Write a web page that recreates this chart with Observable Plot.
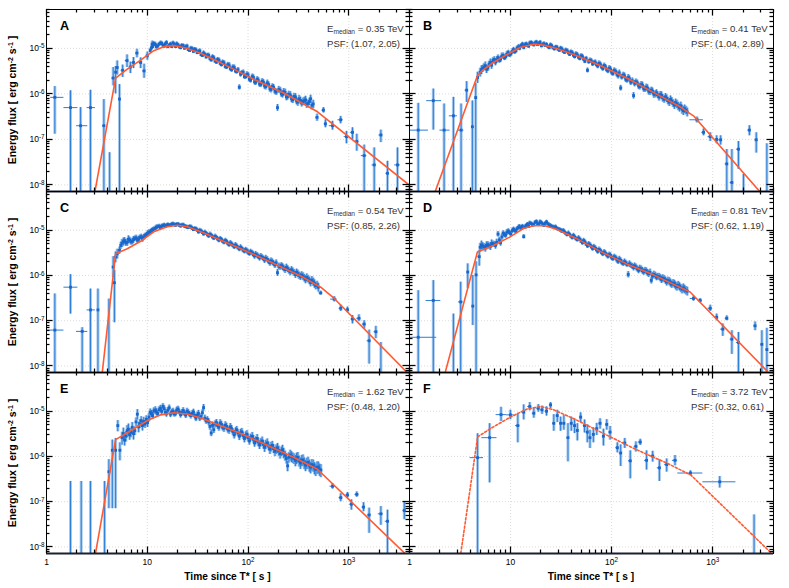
<!DOCTYPE html>
<html><head><meta charset="utf-8">
<script src="https://cdn.jsdelivr.net/npm/d3@7"></script>
<script src="https://cdn.jsdelivr.net/npm/@observablehq/plot@0.6"></script>
<style>
body{margin:0;background:#fff;}
#wrap{position:relative;width:789px;height:588px;overflow:hidden;font-family:'Liberation Sans',Arial,sans-serif;background:#fff;}
.lab{position:absolute;font-weight:bold;font-size:12.6px;line-height:1;color:#000;}
.ann{position:absolute;font-size:9.6px;line-height:1;color:#333;white-space:nowrap;}
.ann .sb{font-size:6.6px;position:relative;top:2.2px;}
.ytitle{position:absolute;font-weight:bold;font-size:10.5px;line-height:1;white-space:nowrap;transform:translate(-50%,-50%) rotate(-90deg);}
.ytitle .sp{font-size:7px;position:relative;top:-3.5px;}
.xtitle{position:absolute;font-weight:bold;font-size:10.2px;line-height:1;white-space:nowrap;transform:translate(-50%,-50%);}
svg.panel{position:absolute;background:transparent !important;overflow:visible;}
</style></head><body><div id="wrap"></div><script>
// ---------------- data (flux values in units of 1e-6 erg cm^-2 s^-1) ----------------
const U = 1e-6;
const panelLetters = ["A","B","C","D","E","F"];
const medianEnergy = ["0.35","0.41","0.54","0.81","1.62","3.72"];
const psfValues = ["(1.07, 2.05)","(1.04, 2.89)","(0.85, 2.26)","(0.62, 1.19)","(0.48, 1.20)","(0.32, 0.61)"];
const X_TICKS = [1, 10, 100, 1000];
const Y_TICKS = [1e-8, 1e-7, 1e-6, 1e-5];

// time bins of the densely sampled part of the light curves (s)
const T = [5.0,5.3,5.62,5.96,6.31,6.69,7.09,7.52,7.97,8.45,8.95,9.49,10.06,10.7,11.3,12.0,12.7,13.5,14.3,15.1,16.0,17.0,18.0,19.1,20.2,21.4,22.7,24.1,25.5,27.1,28.7,30.4,32.2,34.2,36.2,38.4,40.7,43.1,45.7,48.5,51.4,54.4,57.7,61.2,64.8,68.7,72.9,77.2,81.9,86.8,92.0,97.5,103,110,116,123,130,138,146,155,165,174,185,196,208,220,233,247,262,278,295,312,331,351,372,394,418,443,470,498,528,560,593];
const T2 = [5.15,5.46,5.79,6.13,6.50,6.89,7.30,7.74,8.21,8.70,9.22,9.77,10.4,11.0,11.6,12.3,13.1,13.9,14.7,15.5,16.5,17.5,18.5,19.6,20.8,22.0,23.4,24.8,26.3,27.9,29.5,31.3,33.2,35.2,37.3,39.5,41.9,44.4,47.1,49.9,52.9,56.0,59.4,63.0,66.7,70.8,75.0,79.5,84.3,89.4,94.7,100,106,113,119,126,134,142,150,160,169,179,190,202,214,226,240,254,270,286,303,321,341,361,383,406,430,456,484,513,544,576];
// relative errors (%) of the dense points
const errDense = [22,18,20,16,19,15,17,14,16,13,15,12,14, 12,11,12,10,11,9,10,9,10,9,10,9,10,9,10,9,10,9, 10,11,10,11,10,12,11,12,11,12,11,12,12,13,12,13,12,13,12,13, 14,13,14,15,14,15,14,16,15,16,15,16,17,16,17,18,17,18,17,18,19,18,19,20,19,20,21,20,22,21,22,23];
const errDenseE = [30,28,32,26,30,24,28,22,26,22,24,20,22, 18,17,18,16,17,15,16,15,16,15,16,15,16,15,16,15,16,15, 16,17,16,17,16,18,17,18,17,18,17,19,18,19,18,19,18,20,19,20, 20,19,21,20,22,21,22,23,22,24,23,24,25,24,26,25,26,27,26,28,27,28,29,28,30,29,30,31,30,32,31,32];

const fluxA = [null,null,null,null,null,null,null,null,null,null,null,null,null,
 9.0,11.0,12.2,11.3,13.0,11.8,12.6,10.9,12.4,13.2,11.0,11.9,10.4,11.5,10.8,9.4,10.1,8.6,9.3,8.4,7.3,7.9,6.5,7.0,5.6,6.2,5.0,5.5,4.4,4.8,3.9,4.3,3.4,3.8,3.1,1.4,2.9,2.4,2.7,2.1,2.4,1.85,2.1,1.65,1.9,1.5,1.75,1.3,1.45,1.15,0.5,1.2,0.98,1.08,0.88,0.95,0.74,0.86,0.66,0.72,0.68,0.74,0.62,0.78,0.60,
 null,null,null,null,null];
const fluxA2 = [null,null,null,null,null,null,null,null,null,null,null,null,null,
 10.3,12.8,10.9,12.4,12.9,11.2,13.4,11.8,11.0,12.3,12.6,10.8,11.6,10.1,11.2,9.0,9.8,9.6,8.1,8.8,7.0,7.4,7.1,6.0,6.5,5.3,5.7,4.7,5.0,4.0,4.4,3.6,3.9,3.2,3.4,2.7,3.0,2.4,2.6,2.0,2.3,1.8,2.0,1.62,1.8,1.45,1.6,1.25,1.4,1.1,1.25,1.0,1.12,0.86,0.98,0.78,0.88,0.7,0.78,0.63,0.71,0.6,0.68,0.56,
 null,null,null,null,null];
const fluxB = [3.0,3.6,4.2,3.7,4.9,5.4,5.0,6.3,5.8,7.0,6.6,8.1,7.6,9.4,8.9,10.8,11.6,10.5,12.6,11.2,13.5,12.0,13.8,12.9,11.4,12.7,12.2,10.4,11.5,9.8,10.7,9.1,9.7,8.2,8.9,7.4,8.0,6.6,7.2,6.0,6.6,5.2,3.3,5.5,4.6,5.0,4.1,4.5,3.6,3.95,3.2,3.5,2.8,3.1,2.5,1.35,2.6,2.1,2.3,1.8,0.92,1.85,1.5,1.6,1.3,1.4,1.15,1.2,0.98,1.05,0.85,0.93,0.76,0.8,0.66,0.70,0.57,0.6,0.5,0.46,0.47,0.40,null];
const fluxB2 = [3.4,3.9,3.5,4.5,4.3,5.7,5.6,5.5,6.8,6.2,7.5,7.2,8.6,8.4,10.2,10.1,12.4,12.0,11.6,13.1,12.6,13.2,12.1,13.6,12.1,11.6,11.1,11.9,10.3,10.6,9.6,10.1,8.7,9.2,8.0,8.4,7.1,7.6,6.4,6.9,5.8,6.0,5.1,5.3,4.8,4.4,4.7,3.9,4.2,3.4,3.7,3.0,3.3,2.7,2.9,2.35,2.5,2.0,2.15,1.95,1.7,1.75,1.45,1.55,1.28,1.35,1.12,1.15,1.0,0.95,0.96,0.82,0.86,0.71,0.75,0.62,0.64,0.54,0.55,0.43,0.44,null];
const fluxC = [null,3.6,5.2,5.9,5.4,6.1,5.7,6.5,6.0,6.9,6.4,7.6,8.5,9.3,10.2,11.0,11.9,11.4,12.6,12.1,13.3,12.7,13.8,12.9,13.6,12.4,13.1,12.0,11.4,11.8,10.3,10.7,9.2,9.6,8.3,8.5,7.5,7.7,6.7,6.9,6.0,6.2,5.4,5.6,4.8,4.95,4.3,4.45,3.85,3.95,3.45,3.5,3.05,3.15,2.7,2.8,2.45,2.5,2.2,2.25,1.9,2.0,1.7,1.15,1.55,1.55,1.35,1.4,1.2,1.25,1.05,1.1,0.95,0.96,0.82,0.84,0.7,0.72,0.6,0.55,null,null,null];
const fluxC2 = [null,4.6,5.6,5.2,6.3,5.5,6.2,6.8,6.3,7.2,7.0,8.0,9.0,9.8,10.6,11.6,12.3,12.2,13.1,12.6,12.9,13.5,13.2,13.4,12.8,12.9,12.3,11.7,12.0,11.0,10.9,10.0,9.9,8.9,9.0,7.9,8.1,7.1,7.3,6.4,6.5,5.7,5.9,5.1,5.2,4.6,4.7,4.1,4.2,3.6,3.7,3.25,3.35,2.9,2.95,2.6,2.65,2.35,2.4,2.05,2.1,1.85,1.9,1.6,1.65,1.45,1.5,1.3,1.32,1.15,1.17,1.0,1.02,0.88,0.9,0.77,0.79,0.66,0.62,null,null,null];
const fluxD = [4.2,4.5,4.1,4.8,4.4,5.0,4.6,8.2,5.3,8.6,7.8,9.6,8.3,10.4,9.4,11.6,10.9,7.2,12.8,12.1,14.0,13.2,15.5,13.4,14.6,12.8,15.2,13.0,12.1,11.4,11.0,10.3,9.5,9.1,8.0,8.0,6.9,7.1,6.2,6.3,5.3,5.5,4.5,4.7,3.95,4.05,3.4,3.55,3.0,3.1,2.65,2.75,2.35,2.45,2.05,2.15,1.85,1.9,1.05,1.7,1.5,1.55,1.3,1.38,1.2,1.25,1.1,0.78,1.05,0.92,0.94,0.82,0.84,0.72,0.74,0.64,0.65,0.57,0.57,0.5,0.5,0.45,null];
const fluxD2 = [4.7,4.3,4.6,4.5,5.1,4.9,5.4,6.1,7.1,7.9,9.0,8.8,9.8,9.9,10.8,11.9,12.2,11.8,13.6,14.4,13.1,14.9,14.0,15.3,13.6,14.2,13.8,12.6,11.9,11.8,10.6,10.0,9.8,8.5,8.6,7.4,7.6,6.5,6.7,5.7,5.9,4.9,5.0,4.3,4.3,3.7,3.75,3.2,3.3,2.85,2.9,2.5,2.6,2.2,2.3,1.95,2.0,1.75,1.8,1.6,1.62,1.4,1.45,1.28,1.3,1.15,1.17,0.98,1.0,0.95,0.88,0.87,0.78,0.77,0.69,0.68,0.6,0.61,0.53,0.53,0.47,null];
const fluxE = [null,null,2.6,2.3,3.7,3.0,4.4,3.7,8.6,5.3,4.8,5.2,5.6,9.5,8.0,10.6,8.9,11.5,12.8,9.4,10.5,8.6,10.1,9.0,11.2,8.4,10.4,8.2,9.4,8.0,9.6,7.0,8.9,7.6,12.0,6.1,5.8,3.3,3.9,5.6,4.4,5.1,4.2,4.6,3.8,4.1,3.0,3.9,2.8,3.5,2.5,3.1,2.2,2.8,2.0,2.5,1.8,2.2,1.6,2.0,1.45,1.75,1.3,1.55,1.15,1.4,1.05,0.62,1.08,0.95,0.82,0.96,0.72,0.84,0.64,0.74,0.58,0.64,0.52,0.58,0.5,null,null];
const fluxE2 = [null,null,3.2,2.8,4.0,3.4,3.2,5.8,4.5,6.2,5.9,6.6,7.4,8.8,10.1,9.6,10.8,9.9,11.4,8.8,11.9,9.5,8.7,10.6,9.6,9.2,9.0,10.0,8.6,8.9,8.0,8.2,7.1,9.3,7.0,6.5,4.6,4.9,5.2,4.8,5.5,4.4,4.9,4.0,4.5,3.5,3.6,3.3,3.3,2.9,2.9,2.6,2.6,2.4,2.25,2.1,2.05,1.85,1.85,1.7,1.65,1.5,1.45,1.35,1.3,1.2,0.9,0.96,1.0,0.9,0.92,0.8,0.82,0.72,0.71,0.64,0.66,0.56,0.58,0.52,null,null];

// sparse points: [t, flux, fluxLow, fluxHigh, tLow, tHigh]  (fluxLow 0 = bar reaches the axis)
const sparseA = [[1.21,0.84,0.13,1.45,1.10,1.49],[1.73,0.50,0,1.17,1.49,2.05],[2.18,0.20,0,0.50,1.99,2.57],[2.73,0.50,0,1.20,2.53,3.06],[3.71,0.20,0,0.75,3.60,3.85],[4.23,0.004,0,0.051,4.23,4.23],[4.59,2.23,1.5,3.8,4.45,4.75],[4.85,3.0,1.0,4.0,4.85,4.85],[5.03,3.8,2.6,5.3,5.03,5.03],[5.30,0.77,0,1.6,5.30,5.30],[5.70,3.3,2.3,4.3,5.50,5.90],[6.30,5.4,3.8,7.2,6.05,6.55],[6.80,3.9,2.8,5.0,6.60,7.00],[7.30,4.9,3.6,6.3,7.05,7.55],[7.90,7.9,6.2,9.6,7.65,8.15],[8.60,4.9,3.6,6.2,8.30,8.90],[9.30,3.2,2.2,4.5,9.00,9.60],[10.0,6.9,5.5,8.3,9.70,10.3],[11.2,12.5,10.5,14.5,10.9,11.5],
 [484,0.305,0.25,0.36,470,500],[560,0.44,0.38,0.50,540,580],[586,0.22,0.18,0.27,570,605],[689,0.20,0.16,0.25,640,740],[830,0.27,0.22,0.32,780,880],[948,0.115,0.08,0.15,900,1000],[1087,0.143,0.10,0.18,1040,1130],[1200,0.090,0.055,0.13,1150,1260],[1420,0.044,0,0.075,1330,1510],[1786,0.0275,0,0.065,1700,1880],[2080,0.125,0.085,0.16,1990,2180],[2420,0.018,0,0.033,2330,2520],[3040,0.0275,0,0.065,2850,3250]];
const sparseB = [[1.22,0.16,0,0.62,1.0,1.54],[1.72,0.71,0.16,1.28,1.48,2.08],[2.20,0.16,0,0.60,2.0,2.52],[2.72,0.33,0,0.84,2.48,2.98],[3.24,0.16,0,0.60,3.05,3.45],[3.68,1.21,0.65,1.86,3.55,3.80],[4.19,0.19,0,0.70,4.19,4.19],[4.52,0.83,0,1.7,4.52,4.52],[4.72,2.3,1.7,3.0,4.60,4.85],
 [700,0.27,0.23,0.31,595,810],[813,0.143,0.12,0.17,780,850],[946,0.115,0.09,0.14,900,990],[1096,0.10,0.08,0.12,1050,1140],[1200,0.098,0.075,0.12,1150,1250],[1380,0.029,0,0.06,1330,1430],[1550,0.0113,0,0.06,1490,1610],[1800,0.061,0.022,0.09,1720,1880],[2020,0.004,0,0.017,2020,2020],[2310,0.16,0.12,0.20,2220,2400],[2700,0.098,0.05,0.14,2620,2780],[3440,0.004,0,0.08,3440,3440]];
const sparseC = [[1.21,0.062,0,0.39,1.0,1.49],[1.73,0.55,0.14,1.04,1.49,2.05],[2.26,0.058,0,0.07,1.98,2.57],[2.73,0.173,0,0.50,2.53,3.06],[3.24,0.173,0,0.50,3.24,3.24],[4.16,0.004,0,0.30,4.16,4.16],[4.59,1.53,0.9,2.6,4.50,4.70],[4.72,0.69,0.09,1.3,4.72,4.72],[4.85,2.55,1.9,3.3,4.85,4.85],[5.03,3.0,2.3,3.8,5.03,5.03],
 [526,0.41,0.37,0.45,505,550],[716,0.30,0.26,0.34,660,770],[832,0.188,0.16,0.22,800,865],[970,0.175,0.15,0.20,930,1010],[1087,0.109,0.085,0.13,1050,1130],[1260,0.113,0.095,0.135,1200,1320],[1420,0.084,0.065,0.10,1360,1480],[1590,0.036,0.011,0.062,1520,1660],[1855,0.057,0.04,0.075,1780,1940],[2080,0.004,0,0.033,2080,2080]];
const sparseD = [[1.22,0.043,0,0.46,1.0,1.86],[1.72,0.28,0,0.77,1.46,2.04],[2.72,0.004,0,0.14,2.72,2.72],[3.21,0.26,0,0.71,3.05,3.40],[3.77,1.19,0.51,1.8,3.77,3.77],[4.23,0.21,0.078,1.0,4.23,4.23],[4.56,1.03,0,2.0,4.56,4.56],[4.90,2.6,1.6,3.6,4.75,5.05],
 [646,0.31,0.27,0.35,600,700],[751,0.28,0.25,0.31,720,790],[946,0.188,0.16,0.22,900,990],[1096,0.119,0.10,0.14,1050,1140],[1260,0.065,0.045,0.085,1200,1320],[1380,0.113,0.10,0.128,1330,1430],[1550,0.039,0.018,0.06,1490,1610],[1800,0.033,0.004,0.055,1720,1880],[2630,0.077,0.06,0.094,2550,2720],[3070,0.030,0,0.06,3000,3150],[3440,0.023,0,0.068,3380,3500]];
const sparseE = [[1.73,0.004,0,0.28,1.73,1.73],[2.21,0.004,0,0.28,2.21,2.21],[2.73,0.004,0,0.28,2.73,2.73],[3.77,0.004,0,0.28,3.77,3.77],[4.16,0.46,0.07,0.85,4.16,4.16],[4.50,1.37,0.07,2.3,4.50,4.50],[4.85,1.37,0.07,2.5,4.85,4.85],[5.10,4.8,3.5,6.2,5.10,5.10],[5.35,1.37,0.8,2.0,5.35,5.35],
 [689,0.22,0.19,0.25,650,740],[832,0.123,0.10,0.15,800,870],[970,0.141,0.12,0.16,930,1010],[1060,0.088,0.065,0.11,1020,1100],[1200,0.145,0.125,0.165,1150,1260],[1400,0.076,0.06,0.095,1350,1450],[1590,0.051,0.02,0.072,1530,1660],[2080,0.054,0.03,0.078,1960,2200],[2420,0.037,0,0.065,2300,2540],[3550,0.064,0.04,0.10,3450,3650]];
const sparseF = [[4.72,0.94,0,3.17,3.98,5.4],[6.21,2.6,0.26,5.3,5.2,7.34],[8.05,8.4,5.9,12.2,7.2,9.1],[9.96,8.3,6.5,10.5,9.1,10.9],[11.8,4.8,2.0,8.7,11.2,12.4],[13.5,9.5,6.4,13.8,13.0,14.0],[15.5,12.7,10.2,15.5,14.8,16.2],[17.0,9.0,7.0,11.5,16.4,17.6],[18.8,11.6,9.5,14.0,18.2,19.4],[20.5,10.7,8.5,13.0,19.8,21.2],[22.7,10.0,7.8,12.5,22.0,23.4],[24.9,13.8,11.5,15.5,24.2,25.6],[26.8,5.4,3.6,8.4,26.0,27.6],[29.0,8.0,5.6,10.5,28.3,29.7],[31.3,5.4,3.6,7.4,30.6,32.0],[33.7,5.4,3.8,8.0,33.0,34.4],[37.0,2.6,0.76,5.3,36.2,37.8],[39.9,5.4,3.6,7.4,39.0,40.8],[43.0,4.8,3.2,6.6,42.0,44.0],[45.8,3.75,2.2,5.3,44.8,46.8],[49.4,7.4,5.6,9.2,48.4,50.4],[54.0,4.8,3.3,6.4,52.5,55.5],[57.5,3.45,2.0,5.0,56.2,58.8],[61.1,2.6,1.5,3.8,59.8,62.4],[66.0,3.07,2.0,4.3,64.5,67.5],[71.3,4.1,2.9,5.4,69.8,72.8],[76.9,5.4,4.0,6.8,75.0,78.8],[83.0,2.8,1.7,4.0,81.0,85.0],[89.6,5.1,3.8,6.5,87.5,91.7],[96.6,3.45,2.3,4.6,94.0,99.2],[114,1.56,1.2,2.0,110,118],[123,1.19,0.6,1.8,119,127],[135,1.98,1.5,2.5,130,140],[153,0.80,0.32,1.33,147,159],[174,1.67,1.25,2.1,167,181],[192,2.08,1.75,2.4,184,200],[222,0.82,0.5,1.33,212,232],[255,1.02,0.75,1.3,244,266],[297,0.56,0.28,0.84,283,311],[351,0.66,0.45,0.88,335,367],[424,0.82,0.62,1.05,400,450],[603,0.43,0.38,0.48,452,800],[1175,0.275,0.2,0.36,800,1700],[2570,0.004,0,0.051,2570,2570]];

// fitted model curves: [t, flux]
const fitA = [[3.02,0.007],[4.85,2.23],[6.33,3.5],[8.6,5.55],[11.6,8.9],[14.6,10.9],[18.4,11.5],[24,10.2],[33.9,7.8],[49.6,5.2],[72,3.5],[114,2.1],[228,1.03],[489,0.405],[3980,0.0099]];
const fitB = [[1.79,0.007],[4.7,2.5],[5.2,3.2],[6.76,4.9],[9.2,7.3],[12.4,10.5],[16.8,12.4],[21.1,11.8],[28.6,10.0],[45.2,6.9],[76.9,4.2],[141,2.23],[259,1.08],[476,0.52],[646,0.33],[2950,0.007]];
const fitC = [[3.57,0.007],[4.85,3.03],[6.33,3.9],[8.6,5.7],[11.6,9.2],[15.8,11.9],[19.9,12.9],[24.9,11.9],[33.9,9.2],[49.6,6.5],[84.5,3.9],[155,2.15],[333,0.97],[526,0.55],[716,0.31],[3830,0.007]];
const fitD = [[2.25,0.007],[4.7,3.3],[6.76,4.6],[9.9,7.1],[13.4,10.9],[16.8,12.5],[21.9,12.5],[28.6,10.5],[45.2,6.5],[76.9,3.4],[141,1.8],[259,1.03],[598,0.43],[3440,0.0078]];
const fitE = [[3.07,0.0074],[4.85,2.35],[7.37,4.1],[10,6.2],[13.6,8.3],[18.4,9.2],[24.9,8.7],[33.9,7.1],[49.6,5.1],[84.5,3.2],[155,1.77],[286,0.95],[489,0.52],[3550,0.0074]];
const fitF = [[3.22,0.0073],[4.72,2.7],[6.3,4.1],[9.96,7.4],[14.6,11.2],[19.8,12.7],[26.8,10.7],[42.4,6.8],[78,3.45],[167,1.49],[358,0.70],[611,0.385],[3800,0.0073]];

// ---------------- layout / style ----------------
const X_DOMAIN = [1, 4000];
const Y_DOMAIN = [10 ** -8.145, 10 ** -4.145];
const BELOW = 1e-10;
const COLS = [{x: 46, w: 363}, {x: 409, w: 364}];
const ROWS = [{y: 9, h: 182}, {y: 191, h: 181}, {y: 372, h: 181}];
const MARK = "#1966cc", DARK = "#2c7dd6", LIGHT = "#a6c9ee", FIT = "#ff5a32";

const X_MINOR = [];
for (const d of [1, 10, 100, 1000]) for (let k = 2; k <= 9; k++) if (k * d <= X_DOMAIN[1]) X_MINOR.push(k * d);
const Y_MINOR = [];
for (const d of [1e-9, 1e-8, 1e-7, 1e-6, 1e-5]) for (let k = 2; k <= 9; k++) { const v = k * d; if (v >= Y_DOMAIN[0] && v <= Y_DOMAIN[1]) Y_MINOR.push(v); }

const fmtPow = v => { const e = Math.round(Math.log10(v)); if (e === 0) return "1"; if (e === 1) return "10"; return "10^" + e; };

function denseRows(times, flux, err) {
  const out = [];
  times.forEach((t, i) => { const f = flux[i]; if (f == null) return;
    out.push({t, f: f * U, lo: f * (1 - err[i] / 100) * U, hi: f * (1 + err[i] / 100) * U, tlo: t, thi: t}); });
  return out;
}
function sparseRows(rows) {
  return rows.map(([t, f, lo, hi, tlo, thi]) => ({t, f: f * U, lo: lo > 0 ? lo * U : BELOW, hi: hi * U, tlo, thi}));
}

const panels = [
  {dense: denseRows(T, fluxA, errDense).concat(denseRows(T2, fluxA2, errDense)), sparse: sparseRows(sparseA), fit: fitA},
  {dense: denseRows(T, fluxB, errDense).concat(denseRows(T2, fluxB2, errDense)), sparse: sparseRows(sparseB), fit: fitB},
  {dense: denseRows(T, fluxC, errDense).concat(denseRows(T2, fluxC2, errDense)), sparse: sparseRows(sparseC), fit: fitC},
  {dense: denseRows(T, fluxD, errDense).concat(denseRows(T2, fluxD2, errDense)), sparse: sparseRows(sparseD), fit: fitD},
  {dense: denseRows(T, fluxE, errDenseE).concat(denseRows(T2, fluxE2, errDenseE)), sparse: sparseRows(sparseE), fit: fitE},
  {dense: [], sparse: sparseRows(sparseF), fit: fitF, dashed: true}
];

const wrap = document.getElementById("wrap");

panels.forEach((p, idx) => {
  const col = idx % 2, row = Math.floor(idx / 2);
  const X0 = COLS[col].x, W = COLS[col].w, Y0 = ROWS[row].y, H = ROWS[row].h;
  const mL = col === 0 ? 46 : 4, mR = col === 0 ? 4 : 14, mT = 6, mB = row === 2 ? 34 : 4;
  const pts = p.dense.concat(p.sparse);
  const xbars = p.sparse.filter(d => d.thi > d.tlo);
  const fitRows = p.fit.map(([t, f]) => ({t, f: f * U}));
  const marks = [
    Plot.gridX(X_TICKS, {stroke: "#999", strokeOpacity: 0.35, strokeDasharray: "1,2"}),
    Plot.gridY(Y_TICKS, {stroke: "#999", strokeOpacity: 0.35, strokeDasharray: "1,2"}),
    Plot.ruleX(pts, {x: "t", y1: "lo", y2: "hi", stroke: LIGHT, strokeWidth: 3, clip: true}),
    Plot.ruleX(pts, {x: "t", y1: "lo", y2: "hi", stroke: DARK, strokeWidth: 1, clip: true}),
    Plot.ruleY(xbars, {y: "f", x1: "tlo", x2: "thi", stroke: DARK, strokeWidth: 1, clip: true}),
    Plot.dot(pts, {x: "t", y: "f", symbol: "square", r: 1.6, fill: MARK, clip: true}),
    Plot.line(fitRows, {x: "t", y: "f", stroke: FIT, strokeWidth: 1.6, clip: true, ...(p.dashed ? {strokeDasharray: "2.2,2"} : {})}),
    Plot.frame({stroke: "#000", strokeWidth: 1}),
    Plot.ruleY([Y_DOMAIN[0]], {stroke: "#1d2033", strokeWidth: 2})
  ];
  if (col === 0) marks.push(Plot.axisY(Y_TICKS, {anchor: "left", tickSize: 0, tickPadding: 2, tickFormat: fmtPow, label: null, fontSize: 8.5}));
  else marks.push(Plot.axisY([], {anchor: "left", tickSize: 0, label: null}));
  if (row === 2) marks.push(Plot.axisX(X_TICKS, {anchor: "bottom", tickSize: 0, tickPadding: 5, tickFormat: fmtPow, label: null, fontSize: 8.5}));
  else marks.push(Plot.axisX([], {anchor: "bottom", tickSize: 0, label: null}));
  const svg = Plot.plot({
    width: W + mL + mR, height: H + mT + mB,
    marginLeft: mL, marginRight: mR, marginTop: mT, marginBottom: mB,
    x: {type: "log", domain: X_DOMAIN},
    y: {type: "log", domain: Y_DOMAIN},
    style: {fontFamily: "'Liberation Sans', Arial, sans-serif", fontSize: "8.5px", color: "#000"},
    marks
  });
  svg.classList.add("panel");
  svg.style.left = (X0 - mL) + "px";
  svg.style.top = (Y0 - mT) + "px";

  // power-of-ten tick labels: exponent as a real superscript
  d3.select(svg).selectAll("text").each(function () {
    const s = this.textContent, i = s.indexOf("^");
    if (i < 0) return;
    const el = d3.select(this);
    el.text(s.slice(0, i));
    el.append("tspan").attr("dy", "-0.42em").attr("font-size", "0.74em").text(s.slice(i + 1));
  });

  // inward tick marks on all four sides, placed with the plot's own scales
  const xs = svg.scale("x"), ys = svg.scale("y");
  const left = mL, right = mL + W, top = mT, bottom = mT + H;
  const g = d3.select(svg).append("g").attr("stroke", "#000").attr("stroke-width", 1.25).attr("fill", "none");
  const seg = (x1, y1, x2, y2) => g.append("line").attr("x1", x1).attr("y1", y1).attr("x2", x2).attr("y2", y2);
  for (const [vals, len] of [[X_TICKS, 6.5], [X_MINOR, 3.5]]) for (const v of vals) {
    const px = Math.round(xs.apply(v)) + 0.5;
    seg(px, bottom, px, bottom - len);
    seg(px, top, px, top + len);
  }
  for (const [vals, len] of [[Y_TICKS, 6.5], [Y_MINOR, 3.5]]) for (const v of vals) {
    const py = Math.round(ys.apply(v)) + 0.5;
    seg(left, py, left + len, py);
    seg(right, py, right - len, py);
  }
  wrap.appendChild(svg);

  const lab = document.createElement("div");
  lab.className = "lab"; lab.textContent = panelLetters[idx];
  lab.style.left = (X0 + 14) + "px"; lab.style.top = (Y0 + 10.7) + "px";
  wrap.appendChild(lab);

  const a1 = document.createElement("div");
  a1.className = "ann";
  a1.innerHTML = 'E<span class="sb">median</span> = ' + medianEnergy[idx] + ' TeV';
  a1.style.left = (X0 + W - 82) + "px"; a1.style.top = (Y0 + 15.3) + "px";
  wrap.appendChild(a1);

  const a2 = document.createElement("div");
  a2.className = "ann";
  a2.textContent = "PSF: " + psfValues[idx];
  a2.style.left = (X0 + W - 82) + "px"; a2.style.top = (Y0 + 30.3) + "px";
  wrap.appendChild(a2);

  if (col === 0) {
    const yt = document.createElement("div");
    yt.className = "ytitle";
    yt.innerHTML = 'Energy flux [ erg cm<span class="sp">-2</span> s<span class="sp">-1</span> ]';
    yt.style.left = "12px"; yt.style.top = (Y0 + H / 2) + "px";
    wrap.appendChild(yt);
  }
  if (row === 2) {
    const xt = document.createElement("div");
    xt.className = "xtitle";
    xt.textContent = "Time since T* [ s ]";
    xt.style.left = (X0 + W / 2) + "px"; xt.style.top = "577px";
    wrap.appendChild(xt);
  }
});
</script></body></html>
